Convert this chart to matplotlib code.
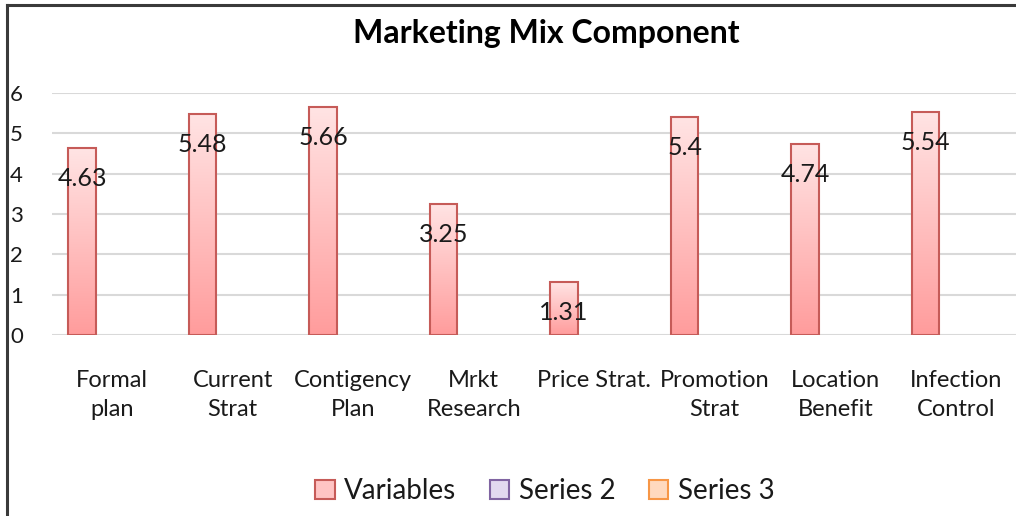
import numpy as np
import matplotlib
matplotlib.use('Agg')
import matplotlib.pyplot as plt
from matplotlib.patches import Patch
from matplotlib.lines import Line2D
from matplotlib.colors import LinearSegmentedColormap

plt.rcParams['font.family'] = ['Lato', 'DejaVu Sans']

# Chart data
categories = ['Formal\nplan', 'Current\nStrat', 'Contigency\nPlan', 'Mrkt\nResearch',
              'Price Strat.', 'Promotion\nStrat', 'Location\nBenefit', 'Infection\nControl']
variables = [4.63, 5.48, 5.66, 3.25, 1.31, 5.4, 4.74, 5.54]
series_names = ['Variables', 'Series 2', 'Series 3']
series_fill = ['#FFC4C4', '#E2D9F0', '#FFD9BE']
series_edge = ['#C65B58', '#8064A2', '#F79646']
y_ticks = [0, 1, 2, 3, 4, 5, 6]

W, H = 1016, 516
fig = plt.figure(figsize=(W / 100, H / 100), dpi=100)
ax = fig.add_axes([52 / W, 181 / H, 964 / W, 242 / H])

x = np.arange(len(categories))
bar_w = 0.23
bar_x = x - 0.25  # first of three clustered series
bars = ax.bar(bar_x, variables, width=bar_w, color='none',
              edgecolor=series_edge[0], linewidth=1.5, zorder=3)

# vertical gradient fill inside each bar
grad_cmap = LinearSegmentedColormap.from_list('pinkgrad', ['#FF9C9C', '#FFE4E4'])
grad = np.linspace(0, 1, 256).reshape(-1, 1)
for b in bars:
    x0, y0 = b.get_x(), b.get_y()
    im = ax.imshow(grad, cmap=grad_cmap, origin='lower', aspect='auto',
                   extent=[x0, x0 + b.get_width(), y0, y0 + b.get_height()], zorder=2)
    im.set_clip_path(b)

# data labels
for xi, v in zip(bar_x, variables):
    ax.annotate(f'{v:g}', (xi, v), xytext=(0, -22), textcoords='offset points',
                ha='center', va='center', fontsize=18, color='#1a1a1a', zorder=4)

ax.set_xlim(-0.5, len(categories) - 0.5)
ax.set_ylim(0, 6)
ax.set_yticks(y_ticks)
ax.set_yticklabels([str(t) for t in y_ticks], fontsize=16, color='#1a1a1a')
ax.set_xticks(x)
ax.set_xticklabels(categories, fontsize=17, color='#1a1a1a', linespacing=1.5)
ax.tick_params(axis='x', length=0, pad=25)
ax.tick_params(axis='y', length=0, pad=21)
ax.yaxis.grid(True, color='#D9D9D9', linewidth=1.5, zorder=0)
ax.set_axisbelow(True)
for s in ax.spines.values():
    s.set_visible(False)

fig.text(546 / W, 1 - 33 / H, 'Marketing Mix Component', ha='center', va='center',
         fontsize=23, fontweight='bold', color='#000000')

handles = [Patch(facecolor=f, edgecolor=e, linewidth=1.5) for f, e in zip(series_fill, series_edge)]
fig.legend(handles, series_names, loc='center', bbox_to_anchor=(545 / W, 25 / H), ncol=3,
           frameon=False, fontsize=20, handlelength=0.7, handleheight=0.7,
           handletextpad=0.35, columnspacing=1.2, labelcolor='#1a1a1a')

# outer chart border (top and left edges visible)
fig.add_artist(Line2D([7 / W, 1], [1 - 5 / H, 1 - 5 / H], transform=fig.transFigure,
                      color='#3a3a3a', linewidth=2.2))
fig.add_artist(Line2D([7 / W, 7 / W], [0, 1 - 5 / H], transform=fig.transFigure,
                      color='#3a3a3a', linewidth=2.2))

fig.savefig('out.png', dpi=100)
